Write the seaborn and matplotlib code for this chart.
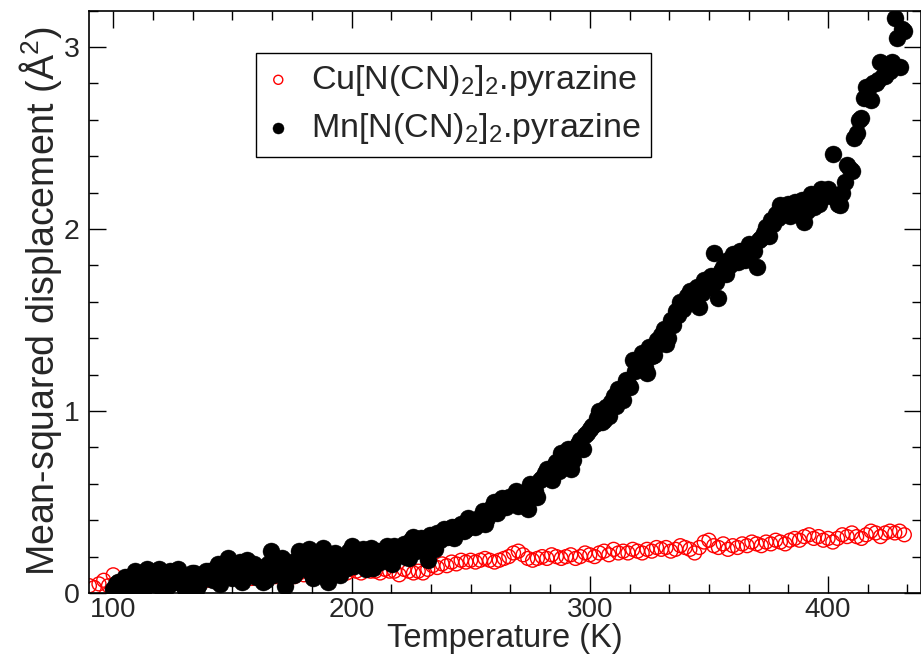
import matplotlib
matplotlib.use("Agg")
import matplotlib.pyplot as plt
from matplotlib.ticker import AutoMinorLocator
import seaborn as sns

# --- data ---
# Mn[N(CN)2]2.pyrazine (filled black), even temperatures
t_mn = [100, 102, 104, 106, 108, 110, 112, 114, 116, 118,
        120, 122, 124, 126, 128, 130, 132, 134, 136, 138,
        140, 142, 144, 146, 148, 150, 152, 154, 156, 158,
        160, 162, 164, 166, 168, 170, 172, 174, 176, 178,
        180, 182, 184, 186, 188, 190, 192, 194, 196, 198,
        200, 202, 204, 206, 208, 210, 212, 214, 216, 218,
        220, 222, 224, 226, 228, 230, 232, 234, 236, 238,
        240, 242, 244, 246, 248, 250, 252, 254, 256, 258,
        260, 262, 264, 266, 268, 270, 272, 274, 276, 278,
        280, 282, 284, 286, 288, 290, 292, 294, 296, 298,
        300, 302, 304, 306, 308, 310, 312, 314, 316, 318,
        320, 322, 324, 326, 328, 330, 332, 334, 336, 338,
        340, 342, 344, 346, 348, 350, 352, 354, 356, 358,
        360, 362, 364, 366, 368, 370, 372, 374, 376, 378,
        380, 382, 384, 386, 388, 390, 392, 394, 396, 398,
        400, 402, 404, 406, 408, 410, 412, 414, 416, 418,
        420, 422, 424, 426, 428, 430, 432]
msd_mn = [0.02, 0.06, 0.04, 0.08, 0.03, 0.10, 0.06, 0.13, 0.05, 0.11,
          0.03, 0.09, 0.12, 0.06, 0.10, 0.02, 0.08, 0.11, 0.05, 0.09,
          0.12, 0.07, 0.16, 0.10, 0.19, 0.08, 0.13, 0.06, 0.18, 0.11,
          0.09, 0.14, 0.07, 0.23, 0.12, 0.15, 0.04, 0.13, 0.10, 0.23,
          0.14, 0.24, 0.08, 0.17, 0.25, 0.06, 0.15, 0.12, 0.20, 0.14,
          0.26, 0.16, 0.19, 0.13, 0.25, 0.20, 0.17, 0.23, 0.21, 0.26,
          0.22, 0.27, 0.19, 0.31, 0.25, 0.29, 0.18, 0.28, 0.33, 0.30,
          0.31, 0.36, 0.33, 0.38, 0.35, 0.40, 0.36, 0.42, 0.38, 0.44,
          0.50, 0.46, 0.49, 0.53, 0.51, 0.48, 0.55, 0.46, 0.58, 0.53,
          0.63, 0.68, 0.62, 0.72, 0.77, 0.70, 0.68, 0.80, 0.84, 0.87,
          0.90, 0.93, 1.00, 0.95, 0.97, 1.08, 1.12, 1.06, 1.15, 1.28,
          1.25, 1.32, 1.21, 1.30, 1.39, 1.42, 1.37, 1.50, 1.55, 1.60,
          1.58, 1.66, 1.62, 1.57, 1.72, 1.68, 1.87, 1.62, 1.79, 1.83,
          1.86, 1.82, 1.88, 1.85, 1.90, 1.79, 1.95, 2.01, 2.05, 2.08,
          2.13, 2.10, 2.07, 2.15, 2.12, 2.04, 2.17, 2.12, 2.14, 2.20,
          2.22, 2.41, 2.14, 2.20, 2.35, 2.32, 2.53, 2.61, 2.78, 2.71,
          2.80, 2.92, 2.84, 2.87, 3.16, 2.89, 3.09]

# Mn, odd temperatures
t_mn_odd = [101, 103, 105, 107, 109, 111, 113, 115, 117, 119,
            121, 123, 125, 127, 129, 131, 133, 135, 137, 139,
            141, 143, 145, 147, 149, 151, 153, 155, 157, 159,
            161, 163, 165, 167, 169, 171, 173, 175, 177, 179,
            181, 183, 185, 187, 189, 191, 193, 195, 197, 199,
            201, 203, 205, 207, 209, 211, 213, 215, 217, 219,
            221, 223, 225, 227, 229, 231, 233, 235, 237, 239,
            241, 243, 245, 247, 249, 251, 253, 255, 257, 259,
            261, 263, 265, 267, 269, 271, 273, 275, 277, 279,
            281, 283, 285, 287, 289, 291, 293, 295, 297, 299,
            301, 303, 305, 307, 309, 311, 313, 315, 317, 319,
            321, 323, 325, 327, 329, 331, 333, 335, 337, 339,
            341, 343, 345, 347, 349, 351, 353, 355, 357, 359,
            361, 363, 365, 367, 369, 371, 373, 375, 377, 379,
            381, 383, 385, 387, 389, 391, 393, 395, 397, 399,
            401, 403, 405, 407, 409, 411, 413, 415, 417, 419,
            421, 423, 425, 427, 429, 431]
msd_mn_odd = [0.05, 0.01, 0.09, 0.04, 0.12, 0.07, 0.02, 0.10, 0.08, 0.13,
              0.07, 0.04, 0.10, 0.13, 0.05, 0.08, 0.11, 0.03, 0.09, 0.12,
              0.09, 0.14, 0.05, 0.11, 0.15, 0.10, 0.17, 0.08, 0.13, 0.16,
              0.12, 0.06, 0.16, 0.10, 0.14, 0.19, 0.09, 0.17, 0.12, 0.15,
              0.18, 0.11, 0.21, 0.13, 0.09, 0.19, 0.22, 0.10, 0.18, 0.23,
              0.15, 0.22, 0.24, 0.18, 0.14, 0.23, 0.19, 0.26, 0.16, 0.24,
              0.25, 0.20, 0.29, 0.23, 0.30, 0.26, 0.32, 0.24, 0.29, 0.35,
              0.34, 0.30, 0.37, 0.34, 0.41, 0.37, 0.39, 0.45, 0.41, 0.47,
              0.44, 0.52, 0.47, 0.50, 0.56, 0.52, 0.49, 0.60, 0.56, 0.62,
              0.66, 0.64, 0.70, 0.67, 0.74, 0.79, 0.73, 0.82, 0.79, 0.88,
              0.92, 0.96, 0.94, 1.02, 1.05, 1.03, 1.10, 1.17, 1.13, 1.22,
              1.27, 1.24, 1.35, 1.31, 1.37, 1.45, 1.40, 1.47, 1.53, 1.56,
              1.63, 1.60, 1.68, 1.65, 1.70, 1.74, 1.71, 1.77, 1.75, 1.80,
              1.84, 1.88, 1.83, 1.92, 1.88, 1.94, 1.98, 1.96, 2.03, 2.06,
              2.09, 2.14, 2.11, 2.08, 2.16, 2.10, 2.19, 2.15, 2.22, 2.18,
              2.20, 2.17, 2.13, 2.26, 2.33, 2.50, 2.60, 2.72, 2.78, 2.80,
              2.82, 2.84, 2.88, 2.92, 3.05, 3.10]

# Cu[N(CN)2]2.pyrazine (open red)
t_cu = [90, 92, 94, 96, 98, 100, 102, 104, 106, 108,
        110, 112, 114, 116, 118, 120, 122, 124, 126, 128,
        130, 132, 134, 136, 138, 140, 142, 144, 146, 148,
        150, 152, 154, 156, 158, 160, 162, 164, 166, 168,
        170, 172, 174, 176, 178, 180, 182, 184, 186, 188,
        190, 192, 194, 196, 198, 200, 202, 204, 206, 208,
        210, 212, 214, 216, 218, 220, 222, 224, 226, 228,
        230, 232, 234, 236, 238, 240, 242, 244, 246, 248,
        250, 252, 254, 256, 258, 260, 262, 264, 266, 268,
        270, 272, 274, 276, 278, 280, 282, 284, 286, 288,
        290, 292, 294, 296, 298, 300, 302, 304, 306, 308,
        310, 312, 314, 316, 318, 320, 322, 324, 326, 328,
        330, 332, 334, 336, 338, 340, 342, 344, 346, 348,
        350, 352, 354, 356, 358, 360, 362, 364, 366, 368,
        370, 372, 374, 376, 378, 380, 382, 384, 386, 388,
        390, 392, 394, 396, 398, 400, 402, 404, 406, 408,
        410, 412, 414, 416, 418, 420, 422, 424, 426, 428,
        430, 432]
msd_cu = [0.04, 0.03, 0.05, 0.07, 0.04, 0.10, 0.06, 0.05, 0.09, 0.07,
          0.06, 0.08, 0.07, 0.09, 0.06, 0.08, 0.07, 0.09, 0.08, 0.07,
          0.08, 0.06, 0.09, 0.08, 0.10, 0.07, 0.09, 0.08, 0.10, 0.09,
          0.08, 0.10, 0.09, 0.11, 0.08, 0.10, 0.09, 0.11, 0.10, 0.09,
          0.11, 0.10, 0.12, 0.09, 0.11, 0.10, 0.12, 0.11, 0.10, 0.12,
          0.11, 0.13, 0.10, 0.12, 0.11, 0.13, 0.12, 0.11, 0.13, 0.12,
          0.12, 0.11, 0.13, 0.12, 0.12, 0.10, 0.13, 0.12, 0.11, 0.12,
          0.11, 0.13, 0.15, 0.14, 0.16, 0.15, 0.17, 0.16, 0.18, 0.17,
          0.18, 0.17, 0.18, 0.19, 0.18, 0.17, 0.18, 0.19, 0.20, 0.22,
          0.23, 0.21, 0.19, 0.18, 0.19, 0.20, 0.19, 0.21, 0.20, 0.19,
          0.20, 0.21, 0.19, 0.20, 0.22, 0.21, 0.20, 0.22, 0.23, 0.21,
          0.24, 0.22, 0.23, 0.22, 0.24, 0.23, 0.22, 0.24, 0.23, 0.25,
          0.24, 0.25, 0.23, 0.24, 0.26, 0.25, 0.24, 0.22, 0.25, 0.28,
          0.29, 0.26, 0.25, 0.27, 0.24, 0.26, 0.25, 0.27, 0.26, 0.28,
          0.27, 0.26, 0.28, 0.27, 0.29, 0.28, 0.27, 0.29, 0.30, 0.29,
          0.31, 0.32, 0.30, 0.31, 0.29, 0.30, 0.28, 0.30, 0.32, 0.31,
          0.33, 0.31, 0.30, 0.32, 0.34, 0.33, 0.31, 0.33, 0.34, 0.33,
          0.34, 0.32]

label_cu = "Cu[N(CN)$_2$]$_2$.pyrazine"
label_mn = "Mn[N(CN)$_2$]$_2$.pyrazine"

# --- style ---
sns.set_style("ticks")
plt.rcParams["font.family"] = ["Liberation Sans", "DejaVu Sans"]
plt.rcParams["mathtext.fontset"] = "custom"
plt.rcParams["mathtext.rm"] = "Liberation Sans"
plt.rcParams["mathtext.it"] = "Liberation Sans"
plt.rcParams["mathtext.default"] = "regular"

fig = plt.figure(figsize=(9.21, 6.66), dpi=100)
ax = fig.add_axes([0.0971, 0.1096, 0.9029, 0.8745])

sns.scatterplot(x=t_cu, y=msd_cu, ax=ax, marker="o", s=100,
                facecolor="none", edgecolor="red", linewidth=1.0,
                label=label_cu)
sns.scatterplot(x=t_mn + t_mn_odd, y=msd_mn + msd_mn_odd, ax=ax,
                marker="o", s=150, color="black", edgecolor="black",
                linewidth=0.3, label=label_mn)

ax.set_xlim(90, 439)
ax.set_ylim(0, 3.2)
ax.set_xticks([100, 200, 300, 400])
ax.set_yticks([0, 1, 2, 3])
ax.xaxis.set_minor_locator(AutoMinorLocator(6))
ax.yaxis.set_minor_locator(AutoMinorLocator(5))

for s in ax.spines.values():
    s.set_visible(True)
    s.set_linewidth(1.2)
    s.set_color("black")

ax.tick_params(which="both", direction="in", top=True, right=True,
               color="black", width=1.0)
ax.tick_params(which="major", length=12.5)
ax.tick_params(which="minor", length=6.5)
ax.tick_params(axis="x", which="major", labelsize=20, pad=3)
ax.tick_params(axis="y", which="major", labelsize=20.5, pad=7)

ax.set_xlabel("Temperature (K)", fontsize=23.5, labelpad=0)
ax.set_ylabel("Mean-squared displacement (Å$^2$)", fontsize=27, labelpad=0)

leg = ax.legend(loc="upper left", bbox_to_anchor=(0.2005, 0.928),
                borderaxespad=0, fontsize=24.5, frameon=True, fancybox=False,
                edgecolor="black", framealpha=1, markerscale=0.65,
                borderpad=0.3, handlelength=0.7, handletextpad=0.6,
                labelspacing=0.4)
leg.get_frame().set_linewidth(1.0)

fig.savefig("out.png", dpi=100)
